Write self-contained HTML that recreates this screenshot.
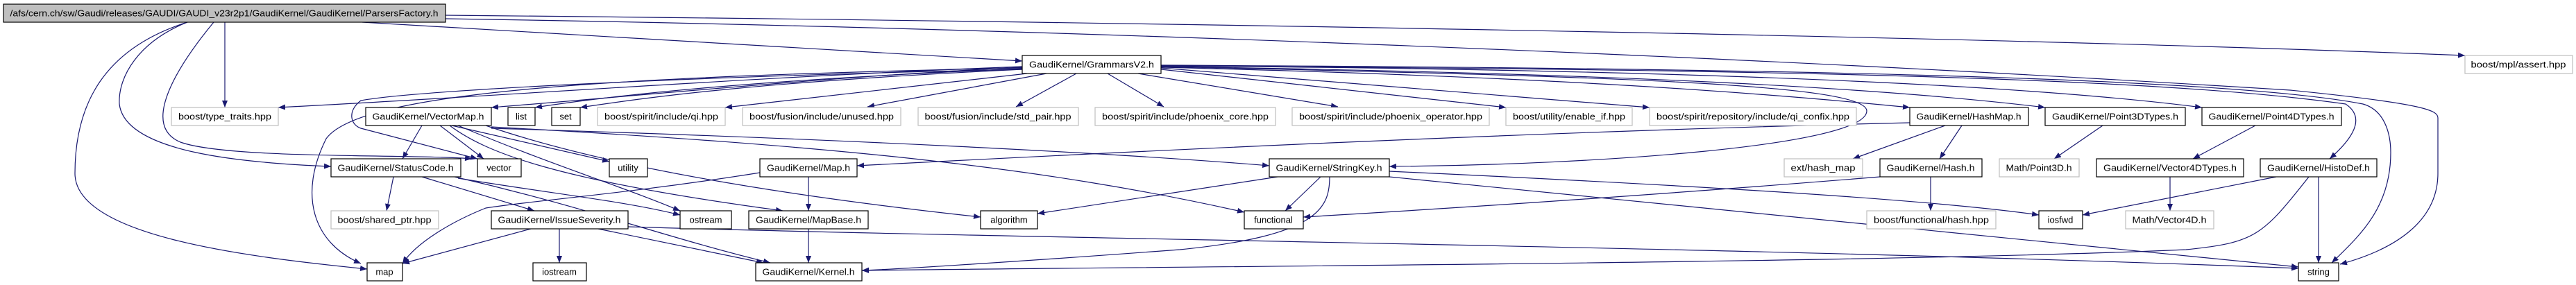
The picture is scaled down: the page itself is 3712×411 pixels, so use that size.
<!DOCTYPE html>
<html><head><meta charset="utf-8"><style>
html,body{margin:0;padding:0;background:#fff;}
svg{display:block;}
text{font-family:"Liberation Sans",sans-serif;font-size:13px;fill:#000;text-anchor:middle;}
.b{fill:#fff;stroke:#000;stroke-width:1.2;}
.g{fill:#fff;stroke:#bfbfbf;stroke-width:1.2;}
.t{fill:#bfbfbf;stroke:#000;stroke-width:1.2;}
path.e{fill:none;stroke:#191970;stroke-width:1.2;marker-end:url(#a);}
</style></head><body>
<svg width="3712" height="411" viewBox="0 0 3712 411" xmlns="http://www.w3.org/2000/svg">
<defs><marker id="a" markerUnits="userSpaceOnUse" markerWidth="11" markerHeight="8" refX="10" refY="4" orient="auto"><path d="M0,0 L10,4 L0,8 z" fill="#191970"/></marker></defs>
<g>
<path class="e" d="M324,32 L324,155"/>
<path class="e" d="M522,32 L1473,88"/>
<path class="e" d="M642,22 C1500,30 2800,50 3552,80"/>
<path class="e" d="M642,27 C1500,40 2500,80 3300,130 C3500,150 3513,160 3513,170 L3513,250 C3513,320 3450,360 3372,381"/>
<path class="e" d="M270,32 C150,70 108,150 108,250 C108,340 350,370 529,388"/>
<path class="e" d="M270,32 C200,60 170,110 172,150 C180,220 350,235 477,240"/>
<path class="e" d="M308,32 C260,90 200,180 260,205 C330,230 600,222 680,229"/>
<path class="e" d="M1473,96 C1100,110 700,140 401,155"/>
<path class="e" d="M1473,97 C1200,110 900,140 708,155"/>
<path class="e" d="M1473,99 C1100,115 900,135 771,155"/>
<path class="e" d="M1473,100 C1100,118 950,138 836,155"/>
<path class="e" d="M1480,106 L1045,155"/>
<path class="e" d="M1508,106 L1250,154"/>
<path class="e" d="M1551,106 L1464,154"/>
<path class="e" d="M1596,106 L1677,154"/>
<path class="e" d="M1640,106 L1928,154"/>
<path class="e" d="M1673,100 L2170,155"/>
<path class="e" d="M1673,98 L2377,155"/>
<path class="e" d="M1673,97 C2200,110 2500,130 2752,155"/>
<path class="e" d="M1673,96 C2300,105 2700,125 2947,155"/>
<path class="e" d="M1673,95 C2400,100 2900,120 3173,155"/>
<path class="e" d="M1673,95 C2500,100 3100,110 3380,150 C3410,170 3390,200 3357,229"/>
<path class="e" d="M1673,94 C2500,98 3200,110 3405,150 C3440,160 3445,200 3445,220 C3445,300 3400,340 3360,379"/>
<path class="e" d="M1673,96 C2300,110 2690,120 2690,160 C2690,210 2300,238 2002,240"/>
<path class="e" d="M1473,100 C1000,110 600,130 520,145 C500,160 505,180 520,185 L688,229"/>
<path class="e" d="M1473,98 C900,110 520,130 470,200 C430,280 450,350 520,380"/>
<path class="e" d="M608,181 L580,229"/>
<path class="e" d="M634,181 L697,229"/>
<path class="e" d="M651,181 L878,233"/>
<path class="e" d="M648,181 C700,220 800,260 1128,304"/>
<path class="e" d="M660,181 C800,240 900,270 980,304"/>
<path class="e" d="M700,181 C900,250 1200,290 1413,313"/>
<path class="e" d="M708,183 C1200,210 1500,240 1793,306"/>
<path class="e" d="M708,185 C1200,200 1600,220 1829,239"/>
<path class="e" d="M567,255 L557,304"/>
<path class="e" d="M608,255 L770,304"/>
<path class="e" d="M655,255 C850,300 950,340 1110,379"/>
<path class="e" d="M660,257 C800,280 900,290 980,310"/>
<path class="e" d="M765,330 L580,380"/>
<path class="e" d="M806,330 L806,379"/>
<path class="e" d="M862,330 L1100,379"/>
<path class="e" d="M905,327 C1500,345 2500,355 3312,387"/>
<path class="e" d="M1165,255 L1165,304"/>
<path class="e" d="M1095,249 C900,280 760,290 700,300 C650,320 600,350 580,380"/>
<path class="e" d="M1165,330 L1165,379"/>
<path class="e" d="M1903,255 L1852,304"/>
<path class="e" d="M1841,255 L1495,308"/>
<path class="e" d="M1916,255 C1916,300 1900,340 1700,360 C1500,375 1300,388 1242,390"/>
<path class="e" d="M2002,247 C2500,270 2800,290 2938,310"/>
<path class="e" d="M2002,255 L3312,385"/>
<path class="e" d="M2803,181 L2670,229"/>
<path class="e" d="M2827,181 L2795,229"/>
<path class="e" d="M2752,177 C2200,190 1600,220 1235,239"/>
<path class="e" d="M2782,255 L2782,304"/>
<path class="e" d="M2709,255 C2400,280 2100,300 1878,313"/>
<path class="e" d="M3030,181 L2960,229"/>
<path class="e" d="M3250,181 L3160,229"/>
<path class="e" d="M3127,255 L3127,304"/>
<path class="e" d="M3280,255 L3001,310"/>
<path class="e" d="M3341,255 L3341,379"/>
<path class="e" d="M3327,255 C3260,340 3250,350 3150,360 C2700,380 1600,385 1242,390"/>
</g>
<g>
<rect class="t" x="5" y="6" width="637" height="26"/><text x="323" y="23.5" textLength="617" lengthAdjust="spacingAndGlyphs">/afs/cern.ch/sw/Gaudi/releases/GAUDI/GAUDI_v23r2p1/GaudiKernel/GaudiKernel/ParsersFactory.h</text>
<rect class="b" x="1473" y="80" width="200" height="26"/><text x="1573" y="97.5" textLength="180" lengthAdjust="spacingAndGlyphs">GaudiKernel/GrammarsV2.h</text>
<rect class="g" x="3552" y="80" width="155" height="26"/><text x="3629" y="97.5" textLength="137" lengthAdjust="spacingAndGlyphs">boost/mpl/assert.hpp</text>

<rect class="g" x="247" y="155" width="154" height="26"/><text x="324" y="172.5" textLength="134" lengthAdjust="spacingAndGlyphs">boost/type_traits.hpp</text>
<rect class="b" x="527" y="155" width="181" height="26"/><text x="617" y="172.5" textLength="161" lengthAdjust="spacingAndGlyphs">GaudiKernel/VectorMap.h</text>
<rect class="b" x="732" y="155" width="39" height="26"/><text x="751" y="172.5">list</text>
<rect class="b" x="795" y="155" width="41" height="26"/><text x="815" y="172.5">set</text>
<rect class="g" x="861" y="155" width="184" height="26"/><text x="953" y="172.5" textLength="164" lengthAdjust="spacingAndGlyphs">boost/spirit/include/qi.hpp</text>
<rect class="g" x="1070" y="155" width="228" height="26"/><text x="1184" y="172.5" textLength="208" lengthAdjust="spacingAndGlyphs">boost/fusion/include/unused.hpp</text>
<rect class="g" x="1323" y="155" width="231" height="26"/><text x="1438" y="172.5" textLength="211" lengthAdjust="spacingAndGlyphs">boost/fusion/include/std_pair.hpp</text>
<rect class="g" x="1578" y="155" width="260" height="26"/><text x="1708" y="172.5" textLength="240" lengthAdjust="spacingAndGlyphs">boost/spirit/include/phoenix_core.hpp</text>
<rect class="g" x="1862" y="155" width="284" height="26"/><text x="2004" y="172.5" textLength="264" lengthAdjust="spacingAndGlyphs">boost/spirit/include/phoenix_operator.hpp</text>
<rect class="g" x="2170" y="155" width="182" height="26"/><text x="2261" y="172.5" textLength="162" lengthAdjust="spacingAndGlyphs">boost/utility/enable_if.hpp</text>
<rect class="g" x="2377" y="155" width="298" height="26"/><text x="2526" y="172.5" textLength="278" lengthAdjust="spacingAndGlyphs">boost/spirit/repository/include/qi_confix.hpp</text>
<rect class="b" x="2752" y="155" width="171" height="26"/><text x="2837" y="172.5" textLength="151" lengthAdjust="spacingAndGlyphs">GaudiKernel/HashMap.h</text>
<rect class="b" x="2947" y="155" width="202" height="26"/><text x="3048" y="172.5" textLength="182" lengthAdjust="spacingAndGlyphs">GaudiKernel/Point3DTypes.h</text>
<rect class="b" x="3173" y="155" width="201" height="26"/><text x="3273" y="172.5" textLength="181" lengthAdjust="spacingAndGlyphs">GaudiKernel/Point4DTypes.h</text>

<rect class="b" x="477" y="229" width="187" height="26"/><text x="570" y="246.5" textLength="167" lengthAdjust="spacingAndGlyphs">GaudiKernel/StatusCode.h</text>
<rect class="b" x="688" y="229" width="63" height="26"/><text x="719" y="246.5">vector</text>
<rect class="b" x="878" y="229" width="55" height="26"/><text x="905" y="246.5">utility</text>
<rect class="b" x="1095" y="229" width="140" height="26"/><text x="1165" y="246.5" textLength="120" lengthAdjust="spacingAndGlyphs">GaudiKernel/Map.h</text>
<rect class="b" x="1829" y="229" width="173" height="26"/><text x="1915" y="246.5" textLength="153" lengthAdjust="spacingAndGlyphs">GaudiKernel/StringKey.h</text>
<rect class="g" x="2571" y="229" width="113" height="26"/><text x="2627" y="246.5" textLength="93" lengthAdjust="spacingAndGlyphs">ext/hash_map</text>
<rect class="b" x="2709" y="229" width="147" height="26"/><text x="2782" y="246.5" textLength="127" lengthAdjust="spacingAndGlyphs">GaudiKernel/Hash.h</text>
<rect class="g" x="2881" y="229" width="115" height="26"/><text x="2938" y="246.5" textLength="95" lengthAdjust="spacingAndGlyphs">Math/Point3D.h</text>
<rect class="b" x="3021" y="229" width="212" height="26"/><text x="3127" y="246.5" textLength="192" lengthAdjust="spacingAndGlyphs">GaudiKernel/Vector4DTypes.h</text>
<rect class="b" x="3257" y="229" width="168" height="26"/><text x="3341" y="246.5" textLength="148" lengthAdjust="spacingAndGlyphs">GaudiKernel/HistoDef.h</text>

<rect class="g" x="477" y="304" width="155" height="26"/><text x="554" y="321.5" textLength="135" lengthAdjust="spacingAndGlyphs">boost/shared_ptr.hpp</text>
<rect class="b" x="708" y="304" width="197" height="26"/><text x="806" y="321.5" textLength="177" lengthAdjust="spacingAndGlyphs">GaudiKernel/IssueSeverity.h</text>
<rect class="b" x="980" y="304" width="74" height="26"/><text x="1017" y="321.5">ostream</text>
<rect class="b" x="1079" y="304" width="172" height="26"/><text x="1165" y="321.5" textLength="152" lengthAdjust="spacingAndGlyphs">GaudiKernel/MapBase.h</text>
<rect class="b" x="1413" y="304" width="82" height="26"/><text x="1454" y="321.5">algorithm</text>
<rect class="b" x="1793" y="304" width="85" height="26"/><text x="1835" y="321.5">functional</text>
<rect class="g" x="2690" y="304" width="186" height="26"/><text x="2783" y="321.5" textLength="166" lengthAdjust="spacingAndGlyphs">boost/functional/hash.hpp</text>
<rect class="b" x="2938" y="304" width="63" height="26"/><text x="2969" y="321.5">iosfwd</text>
<rect class="g" x="3063" y="304" width="127" height="26"/><text x="3126" y="321.5" textLength="107" lengthAdjust="spacingAndGlyphs">Math/Vector4D.h</text>

<rect class="b" x="529" y="379" width="51" height="26"/><text x="554" y="396.5">map</text>
<rect class="b" x="768" y="379" width="77" height="26"/><text x="806" y="396.5">iostream</text>
<rect class="b" x="1089" y="379" width="153" height="26"/><text x="1165" y="396.5" textLength="133" lengthAdjust="spacingAndGlyphs">GaudiKernel/Kernel.h</text>
<rect class="b" x="3312" y="379" width="58" height="26"/><text x="3341" y="396.5">string</text>
</g>
</svg>
</body></html>
